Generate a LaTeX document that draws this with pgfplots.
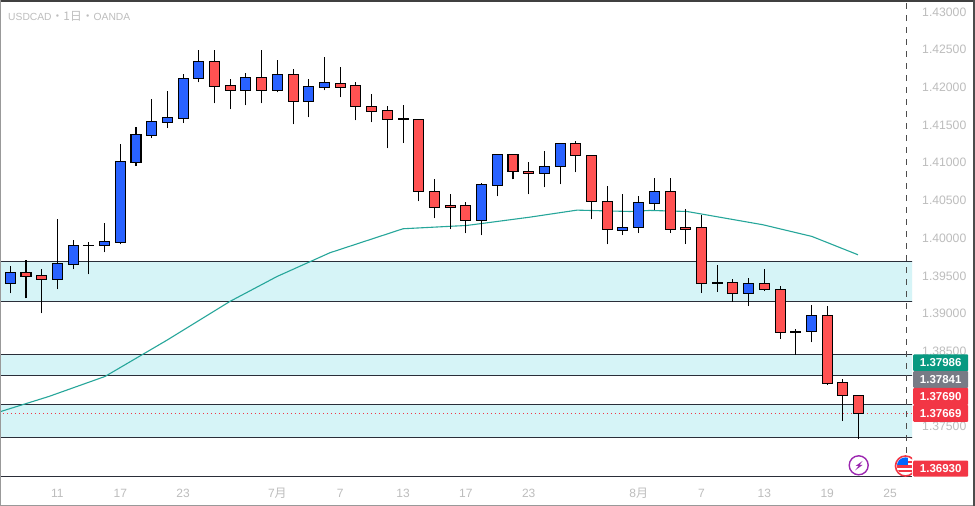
\documentclass[border=0pt]{standalone}
\usepackage{fontspec}
\usepackage{pgfplots}
\usepackage{pgfplotstable}
\pgfplotsset{compat=1.18}
\setmainfont{Liberation Sans}
\newfontfamily\cjk{Noto Sans CJK JP}
\definecolor{cblue}{HTML}{2962FF}
\definecolor{cred}{HTML}{FF5252}
\definecolor{zone}{HTML}{D6F4F7}
\definecolor{zline}{HTML}{2A2E39}
\definecolor{ma}{HTML}{26A69A}
\definecolor{txt}{HTML}{BDBDBD}
\definecolor{lgreen}{HTML}{089981}
\definecolor{lgray}{HTML}{787B86}
\definecolor{lred}{HTML}{F23645}
\definecolor{purp}{HTML}{9C27B0}
% i up high top bottom low
\pgfplotstableread{
i up h t b l
0 1 1.39618 1.39534 1.39396 1.39260
1 0 1.39698 1.39534 1.39489 1.39194
2 0 1.39578 1.39495 1.39442 1.38995
3 1 1.40241 1.39654 1.39442 1.39313
4 1 1.39963 1.39892 1.39648 1.39578
5 1 1.39946 1.39900 1.39892 1.39512
6 1 1.40188 1.39946 1.39900 1.39804
7 1 1.41236 1.41007 1.39940 1.39910
8 1 1.41471 1.41365 1.41001 1.40948
9 1 1.41833 1.41537 1.41359 1.41320
10 1 1.41939 1.41590 1.41532 1.41452
11 1 1.42174 1.42107 1.41585 1.41519
12 1 1.42483 1.42333 1.42107 1.42058
13 0 1.42483 1.42333 1.42009 1.41780
14 0 1.42098 1.42015 1.41956 1.41700
15 1 1.42178 1.42121 1.41956 1.41753
16 0 1.42483 1.42121 1.41956 1.41780
17 1 1.42350 1.42160 1.41956 1.41926
18 0 1.42240 1.42160 1.41810 1.41501
19 1 1.42107 1.42001 1.41810 1.41594
20 1 1.42390 1.42054 1.41996 1.41952
21 0 1.42257 1.42045 1.41992 1.41859
22 0 1.42058 1.42019 1.41736 1.41554
23 0 1.41899 1.41736 1.41678 1.41528
24 0 1.41740 1.41683 1.41572 1.41183
25 0 1.41753 1.41577 1.41572 1.41253
26 0 1.41564 1.41564 1.40609 1.40480
27 0 1.40772 1.40609 1.40404 1.40255
28 0 1.40582 1.40423 1.40404 1.40109
29 0 1.40476 1.40423 1.40224 1.40056
30 1 1.40719 1.40702 1.40224 1.40029
31 1 1.41113 1.41099 1.40696 1.40546
32 0 1.41113 1.41099 1.40874 1.40772
33 0 1.40997 1.40874 1.40847 1.40573
34 1 1.41152 1.40940 1.40847 1.40666
35 1 1.41259 1.41245 1.40940 1.40706
36 0 1.41285 1.41245 1.41086 1.40865
37 0 1.41099 1.41086 1.40476 1.40241
38 0 1.40679 1.40476 1.40102 1.39910
39 1 1.40582 1.40131 1.40099 1.40033
40 1 1.40546 1.40463 1.40131 1.40060
41 1 1.40794 1.40609 1.40457 1.40370
42 0 1.40794 1.40609 1.40113 1.40060
43 0 1.40383 1.40131 1.40113 1.39914
44 0 1.40294 1.40131 1.39396 1.39264
45 0 1.39640 1.39402 1.39396 1.39277
46 0 1.39455 1.39402 1.39256 1.39150
47 1 1.39468 1.39388 1.39256 1.39091
48 0 1.39587 1.39388 1.39309 1.39290
49 0 1.39362 1.39309 1.38739 1.38654
50 0 1.38792 1.38755 1.38749 1.38447
51 1 1.39110 1.38964 1.38752 1.38610
52 0 1.39087 1.38964 1.38070 1.38044
53 0 1.38129 1.38075 1.37903 1.37566
54 0 1.37903 1.37903 1.37669 1.37327
}\candles
\newcommand\lab[4]{\node[fill=#3,text=white,rounded corners=1bp,anchor=west,inner sep=0pt,minimum width=55bp,minimum height=#4,font=\bfseries\fontsize{11.5bp}{12bp}\selectfont] at (913bp,#1) {#2};}
\begin{document}
\begin{tikzpicture}[x=1bp,y=1bp]
\useasboundingbox (0,0) rectangle (975,506);
\fill[white] (0,0) rectangle (975,506);
\begin{axis}[
  at={(0,38.5)},anchor=south west,
  scale only axis,width=912bp,height=476.5bp,
  xmin=-0.656,xmax=57.4,ymin=1.36826,ymax=1.43146,
  axis line style={draw=none},
  major tick length=0pt,
  yticklabel pos=right,
  xtick={3,7,11,17,21,25,29,33,40,44,48,52,56},
  xticklabels={11,17,23,7{\cjk 月},7,13,17,23,8{\cjk 月},7,13,19,25},
  ytick={1.43,1.425,1.42,1.415,1.41,1.405,1.40,1.395,1.39,1.385,1.375},
  yticklabels={1.43000,1.42500,1.42000,1.41500,1.41000,1.40500,1.40000,1.39500,1.39000,1.38500,1.37500},
  y tick label style={anchor=west,inner sep=0pt,xshift=10bp,yshift=-0.5bp,text=txt,font=\fontsize{12.2bp}{13bp}\selectfont},
  x tick label style={anchor=center,inner sep=0pt,yshift=-16bp,text=txt,font=\fontsize{12bp}{13bp}\selectfont},
]
\addplot[fill=zone,draw=zline,line width=1bp] coordinates {(-2,1.39680)(59,1.39680)(59,1.39150)(-2,1.39150)} -- cycle;
\addplot[fill=zone,draw=zline,line width=1bp] coordinates {(-2,1.38447)(59,1.38447)(59,1.38168)(-2,1.38168)} -- cycle;
\addplot[fill=zone,draw=zline,line width=1bp] coordinates {(-2,1.37784)(59,1.37784)(59,1.37346)(-2,1.37346)} -- cycle;
\addplot[lred,line width=0.8bp,dash pattern=on 1bp off 3bp] coordinates {(-2,1.37669)(59,1.37669)};
\addplot[color=black!70,line width=1bp,dash pattern=on 6bp off 6bp] coordinates {(57.03,1.36826)(57.03,1.43146)};
\addplot[ma,line width=1.1bp] coordinates {
(-0.656,1.37691)(2.46,1.37894)(6.03,1.38159)(9.97,1.38640)(13.98,1.39154)(16.98,1.39485)
(20.35,1.39800)(25.0,1.40118)(29.07,1.40162)(33.08,1.40272)(36.07,1.40365)(39.45,1.40347)
(40.72,1.40361)(43.08,1.40347)(47.91,1.40171)(51.03,1.40016)(53.96,1.39773)};
\pgfplotsinvokeforeach{0,...,54}{
  \pgfplotstablegetelem{#1}{up}\of\candles\let\cu\pgfplotsretval
  \pgfplotstablegetelem{#1}{h}\of\candles\let\ch\pgfplotsretval
  \pgfplotstablegetelem{#1}{t}\of\candles\let\ct\pgfplotsretval
  \pgfplotstablegetelem{#1}{b}\of\candles\let\cb\pgfplotsretval
  \pgfplotstablegetelem{#1}{l}\of\candles\let\cl\pgfplotsretval
  \ifnum\cu=1 \def\cc{cblue}\else\def\cc{cred}\fi
  \pgfmathsetmacro\xa{#1-0.318}
  \pgfmathsetmacro\xb{#1+0.318}
  \edef\temp{%
    \noexpand\addplot[draw=black,line width=1.05bp] coordinates {(#1,\cl)(#1,\cb)};
    \noexpand\addplot[draw=black,line width=1.05bp] coordinates {(#1,\ct)(#1,\ch)};
    \noexpand\addplot[draw=black,fill=\cc,line width=1.05bp] coordinates {(\xa,\cb)(\xb,\cb)(\xb,\ct)(\xa,\ct)} -- cycle;
  }
  \temp
}
\end{axis}
% frame
\draw[zline,line width=1bp] (0,29.7) -- (912,29.7);
\fill[black!75] (0,504) rectangle (975,506);
\fill[black!40] (0,0) rectangle (1,506);
\fill[black!40] (0,0) rectangle (975,1);
\fill[black!70] (973,0) rectangle (975,506);
% title
\node[anchor=west,inner sep=0pt,text=txt,font=\fontsize{10.3bp}{12bp}\selectfont] at (8,489.3) {USDCAD{\fontsize{11.8bp}{12bp}\selectfont\cjk ・1日・}OANDA};
% price labels
\lab{143.3}{1.37986}{lgreen}{16.7bp}
\lab{126.5}{1.37841}{lgray}{16.6bp}
\lab{109.7}{1.37690}{lred}{17bp}
\lab{92.7}{1.37669}{lred}{17bp}
\lab{37.3}{1.36930}{lred}{16bp}
% icons
\draw[purp,fill=white,line width=1.4bp] (858.7,40.7) circle (9.5);
\fill[purp] (862.5,45) -- (855.5,40) -- (858.5,40) -- (855,35.5) -- (862.5,41) -- (859.5,41) -- cycle;
\begin{scope}
\clip (890,20) rectangle (912,60);
\draw[lred,fill=white,line width=1.6bp] (905.5,40) circle (10);
\clip (905.5,40) circle (8.6);
\fill[lred] (895,38) rectangle (912,40.5);
\fill[lred] (895,33.5) rectangle (912,35.5);
\fill[lred] (908,43) rectangle (912,45);
\fill[blue!60!cyan] (895,40.5) rectangle (908,50);
\end{scope}
\end{tikzpicture}
\end{document}
